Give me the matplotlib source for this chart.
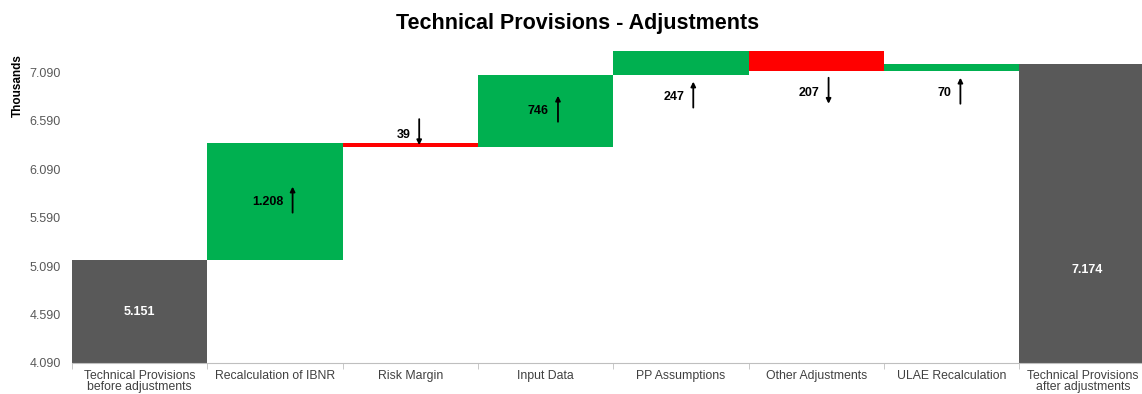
import numpy as np
import matplotlib
matplotlib.use("Agg")
import matplotlib.pyplot as plt
from matplotlib.transforms import offset_copy, ScaledTranslation

plt.rcParams['font.family'] = ['Liberation Sans', 'DejaVu Sans']

# data (thousands)
categories = ["Technical Provisions\nbefore adjustments", "Recalculation of IBNR",
              "Risk Margin", "Input Data", "PP Assumptions", "Other Adjustments",
              "ULAE Recalculation", "Technical Provisions\nafter adjustments"]
start_total = 5151
deltas = [1208, -39, 746, 247, -207, 70]
end_total = 7174
delta_label_pos = ["center", "above", "center", "below", "below", "below"]
total_label_frac = [0.5, 0.31]

C_TOTAL = "#595959"
C_UP = "#00B050"
C_DOWN = "#FF0000"

Y_LO, Y_HI = 4090, 7320


def fmt(v):
    return f"{abs(v):,.0f}".replace(",", ".")


def text_w(s):
    # rough width in px of 9pt bold Liberation Sans at 100 dpi
    return sum(3.5 if c == "." else 6.95 for c in s)


fig = plt.figure(figsize=(11.42, 3.94), dpi=100)
ax = fig.add_axes([72 / 1142, 31 / 394, 1070 / 1142, 313 / 394])

# waterfall bars
bottoms = []
level = start_total
for d in deltas:
    bottoms.append(level if d >= 0 else level + d)
    level += d

x = np.arange(len(categories))
ax.bar(x[0], start_total - Y_LO, bottom=Y_LO, width=1.0, color=C_TOTAL)
ax.bar(x[1:-1], np.abs(deltas), bottom=bottoms, width=1.0,
       color=[C_UP if d >= 0 else C_DOWN for d in deltas])
ax.bar(x[-1], end_total - Y_LO, bottom=Y_LO, width=1.0, color=C_TOTAL)

# axes styling (ticks first, limits after so ticks don't widen them)
for side in ["left", "top", "right"]:
    ax.spines[side].set_visible(False)
ax.spines["bottom"].set_color("#BFBFBF")
ax.set_xticks(x)
ax.set_xticklabels(categories, fontsize=8.8, color="#404040", linespacing=0.95)
ax.set_xticks(np.arange(len(categories) + 1) - 0.5, minor=True)
ax.tick_params(axis="x", which="major", length=0, pad=5)
ax.tick_params(axis="x", which="minor", length=4, color="#BFBFBF")
ax.set_yticks(np.arange(4090, 7100, 500))
ax.set_yticklabels([fmt(v) for v in np.arange(4090, 7100, 500)])
ax.tick_params(axis="y", length=0, pad=8, labelsize=9, labelcolor="#595959")

# last category label sits at the figure edge: nudge it in a little
last_lbl = ax.get_xticklabels()[-1]
last_lbl.set_transform(last_lbl.get_transform() + ScaledTranslation(-4 / 100, 0, fig.dpi_scale_trans))

ax.set_ylim(Y_LO, Y_HI)
ax.set_xlim(-0.5, -0.5 + 1070 / 135.3)

# total labels
for xi, v, fr in zip([x[0], x[-1]], [start_total, end_total], total_label_frac):
    ax.text(xi, Y_LO + fr * (v - Y_LO), fmt(v), ha="center", va="center",
            color="white", fontsize=9, fontweight="bold")

# delta labels with arrows
for i, (d, b, pos) in enumerate(zip(deltas, bottoms, delta_label_pos)):
    xi = x[i + 1]
    top = b + abs(d)
    if pos == "center":
        yref, dy = (b + top) / 2, 2
    elif pos == "above":
        yref, dy = top, 11
    else:
        yref, dy = b, -20
    s = fmt(d)
    tw = text_w(s)
    ax_x = tw / 2 + 2
    up = d >= 0
    tip = dy + 13 if up else dy - 13
    tail = dy - 13 if up else dy + 13
    ax.annotate("", xy=(xi, yref),
                xycoords=offset_copy(ax.transData, fig=fig, x=ax_x, y=tip, units="dots"),
                xytext=(xi, yref),
                textcoords=offset_copy(ax.transData, fig=fig, x=ax_x, y=tail, units="dots"),
                arrowprops=dict(arrowstyle="-|>", color="black", lw=1.3,
                                mutation_scale=7, shrinkA=0, shrinkB=0))
    ax.text(xi, yref, s, ha="right", va="center", fontsize=9, fontweight="bold",
            color="black",
            transform=offset_copy(ax.transData, fig=fig, x=ax_x - 9, y=dy - 2.5, units="dots"))

fig.text(18 / 1142, 1 - 86 / 394, "Thousands", rotation=90, ha="center", va="center",
         fontsize=8.5, fontweight="bold")
fig.text(578 / 1142, 1 - 23 / 394, "Technical Provisions - Adjustments", ha="center",
         va="center", fontsize=15.5, fontweight="bold")

fig.savefig("out.png", dpi=100)
